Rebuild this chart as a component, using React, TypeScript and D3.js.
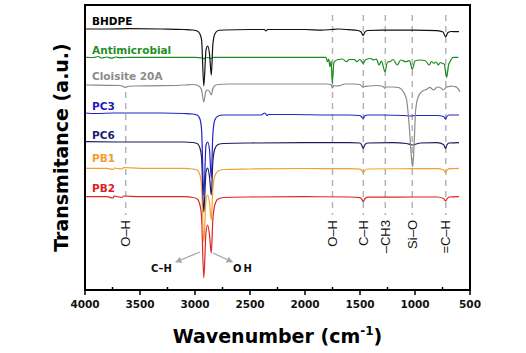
import * as d3 from "d3";
import React from "react";

type Pt = [number, number];

// spectra: [wavenumber (cm-1), transmittance (a.u., offset per trace)]
const bhdpe: Pt[] = [
  [4000, 261], [3800, 261], [3600, 261.3], [3300, 261], [3100, 260.5], [3020, 260], [2980, 259],
  [2955, 256], [2940, 250], [2920, 204], [2900, 240], [2885, 244], [2868, 236], [2852, 215],
  [2838, 245], [2820, 256], [2790, 259.5], [2740, 260], [2500, 260.5], [2370, 260.5], [2355, 259],
  [2340, 260.5], [2000, 260.5], [1850, 259.8], [1760, 260.5], [1700, 261], [1600, 260.3],
  [1520, 259.5], [1490, 258], [1470, 254.5], [1458, 257.5], [1430, 259.5], [1300, 259.8],
  [1000, 259.8], [800, 259.3], [745, 258], [722, 253.3], [712, 255], [700, 257.5], [670, 258.5],
  [630, 258.3], [600, 258.3],
];
const antimicrobial: Pt[] = [
  [4000, 232.7], [3920, 232.5], [3880, 233.5], [3850, 232], [3800, 233], [3760, 231.8], [3720, 233],
  [3680, 232.3], [3600, 232.7], [3000, 232.7], [2930, 232], [2920, 231], [2905, 232.5], [2860, 232],
  [2850, 231.5], [2830, 232.7], [2400, 232.7], [2000, 232.7], [1810, 232.7], [1794, 228.3],
  [1785, 231], [1773, 223.3], [1762, 229], [1752, 206.7], [1740, 225], [1733, 228.3], [1700, 230.5],
  [1660, 231], [1621, 228.3], [1600, 230.5], [1550, 230.5], [1530, 228.3], [1500, 230.5],
  [1470, 226.7], [1450, 230.3], [1400, 231.5], [1380, 230], [1350, 231], [1327, 225], [1305, 229],
  [1273, 218.3], [1250, 228], [1227, 228.3], [1200, 230.5], [1161, 225], [1130, 230], [1082, 228.3],
  [1050, 229.5], [1025, 220.7], [1000, 229], [955, 230], [910, 229.5], [870, 225], [850, 228.5],
  [827, 226.7], [808, 228], [788, 225], [770, 227.5], [752, 226.7], [735, 226], [712, 212.7],
  [695, 225], [682, 228.3], [652, 232.7], [606, 232.7],
];
const cloisite: Pt[] = [
  [4000, 205], [3800, 204.7], [3680, 204.5], [3640, 203], [3630, 202.7], [3615, 203.5], [3560, 204],
  [3300, 204.3], [3100, 205], [3020, 205.5], [2980, 204.8], [2955, 203], [2940, 200], [2920, 188],
  [2900, 199], [2885, 200], [2868, 198.5], [2852, 195], [2838, 201], [2820, 204.5], [2790, 205.5],
  [2700, 206], [2400, 206], [2000, 206], [1800, 206], [1765, 205.5], [1750, 202], [1738, 204.5],
  [1720, 204], [1680, 204.5], [1640, 206], [1560, 206], [1500, 205.5], [1480, 203.5], [1470, 202.7],
  [1460, 203.5], [1420, 204], [1350, 204.5], [1290, 203.5], [1273, 201.7], [1260, 203], [1200, 203],
  [1150, 202.5], [1106, 198.3], [1076, 190], [1052, 163.3], [1030, 130], [1021, 123.3], [1009, 143.3],
  [994, 180], [970, 193.3], [939, 198.3], [894, 200.7], [864, 202.7], [845, 201], [827, 200],
  [810, 202], [788, 203], [765, 202], [742, 200], [712, 203], [690, 203.5], [667, 204], [640, 203.5],
  [621, 202.7], [591, 198.3],
];
const pc3: Pt[] = [
  [4000, 177], [3900, 176.5], [3740, 177], [3600, 177], [3300, 177], [3100, 176.5], [3020, 176],
  [2980, 175], [2955, 171], [2940, 160], [2920, 95], [2900, 145], [2885, 148], [2868, 140],
  [2852, 112], [2838, 155], [2820, 170], [2790, 174], [2740, 175], [2600, 175], [2400, 175],
  [2365, 177], [2345, 174.5], [2330, 175.5], [2100, 175.5], [1800, 175], [1600, 175], [1500, 174.5],
  [1485, 173], [1470, 171.5], [1458, 174], [1430, 175], [1300, 175], [1100, 174.5], [1030, 174],
  [1000, 174.5], [800, 174.5], [740, 173.5], [722, 171], [710, 173.5], [690, 175], [600, 175],
];
const pc6: Pt[] = [
  [4000, 148.3], [3700, 148], [3300, 148], [3100, 148], [3020, 147.5], [2980, 146.5], [2955, 142],
  [2940, 132], [2920, 78], [2900, 118], [2885, 122], [2868, 113], [2852, 95], [2838, 128],
  [2820, 141], [2790, 145.5], [2740, 146.5], [2500, 147], [2000, 147.3], [1600, 147.3], [1500, 147],
  [1485, 145], [1470, 141.7], [1458, 145], [1430, 147], [1200, 147.3], [1080, 146.5], [1040, 145.5],
  [1020, 145], [990, 146], [950, 147], [800, 147.3], [740, 145.5], [722, 141.5], [710, 145],
  [690, 147], [600, 147.3],
];
const pb1: Pt[] = [
  [4000, 121.7], [3800, 121.7], [3745, 120.5], [3735, 122], [3660, 121], [3650, 122.5], [3500, 121.7],
  [3100, 121.7], [3020, 121], [2980, 120], [2955, 115], [2940, 104], [2920, 48], [2900, 90],
  [2885, 95], [2868, 87], [2852, 70], [2838, 100], [2820, 114], [2790, 119], [2740, 120.5], [2500, 121],
  [2000, 121.5], [1600, 121.3], [1500, 120.8], [1485, 119.5], [1470, 117.3], [1458, 119.5],
  [1430, 121], [1000, 121.3], [800, 121.3], [740, 120], [722, 117.3], [710, 119.5], [690, 121.3],
  [600, 121.7],
];
const pb2: Pt[] = [
  [4000, 93.3], [3800, 93.3], [3745, 92], [3735, 94], [3665, 92.5], [3650, 94], [3500, 93.3],
  [3100, 93.3], [3020, 92.5], [2980, 91], [2955, 85], [2940, 72], [2920, 12], [2900, 58], [2885, 65],
  [2868, 55], [2852, 37], [2838, 70], [2820, 85], [2790, 91], [2740, 92.5], [2500, 93], [2000, 93.3],
  [1600, 93], [1500, 92.3], [1485, 91], [1470, 88.3], [1458, 91], [1430, 92.8], [1000, 93], [800, 93],
  [740, 91.5], [722, 89], [710, 91], [690, 93], [600, 93.3],
];

const seriesNames = ["BHDPE", "Antimicrobial", "Cloisite 20A", "PC3", "PC6", "PB1", "PB2"];
const seriesData = [bhdpe, antimicrobial, cloisite, pc3, pc6, pb1, pb2];
const lineColors = ["#111111", "#1c8a1c", "#8a8a8a", "#2424c8", "#1c1c5c", "#f2a032", "#e02424"];
const labelColors = ["#000000", "#1f8f1f", "#8c8c8c", "#2020c0", "#1c1c6c", "#f39a30", "#dd2020"];
const labelBaselines = [265, 236, 210, 180, 151.5, 128.5, 98.5];

const bandPositions = [3630, 1750, 1470, 1270, 1025, 720];
const bandTops = [198, 275, 275, 275, 275, 275];
const bandLabels = ["O–H", "O–H", "C–H", "–CH3", "Si–O", "=C–H"];

const majorTicks = [4000, 3500, 3000, 2500, 2000, 1500, 1000, 500];
const minorTicks = [3750, 3250, 2750, 2250, 1750, 1250, 750];

// annotation arrows: [from wn, from v, to wn, to v]
const arrows = [
  { from: [2955, 38], to: [3175, 28], text: "C–H", at: [3305, 18] },
  { from: [2836, 37], to: [2660, 28], text: "OH", at: [2560, 18] },
];

const W = 526, H = 353;
const m = { left: 85, right: 56, top: 5, bottom: 63 };

export default function App() {
  const x = d3.scaleLinear().domain([4000, 500]).range([m.left, W - m.right]);
  const y = d3.scaleLinear().domain([0, 285]).range([H - m.bottom, m.top]);
  const line = d3.line<Pt>().x(d => x(d[0])).y(d => y(d[1])).curve(d3.curveMonotoneX);
  const bottom = H - m.bottom;
  const order = [6, 5, 4, 3, 2, 1, 0];

  return (
    <svg width={W} height={H} style={{ position: "absolute", left: 0, top: 0, background: "#fff" }}>
      <defs>
        <marker id="ah" viewBox="0 0 10 10" refX="9" refY="5" markerWidth="5" markerHeight="5" orient="auto">
          <path d="M0,0L10,5L0,10z" fill="#a8a8a8" />
        </marker>
      </defs>
      {bandPositions.map((b, i) => (
        <g key={"b" + i}>
          <line x1={x(b)} x2={x(b)} y1={y(bandTops[i])} y2={y(75)} stroke="#b4b4b4" strokeWidth={1.5} strokeDasharray="6,5" />
          <text transform={`translate(${x(b) + 4.5},${y(70)}) rotate(-90)`} textAnchor="end"
            fontFamily="Liberation Sans, Arial, sans-serif" fontSize={13} fill="#111">{bandLabels[i]}</text>
        </g>
      ))}
      {order.map(i => (
        <path key={seriesNames[i]} d={line(seriesData[i]) || ""} fill="none" stroke={lineColors[i]} strokeWidth={1.2} />
      ))}
      {seriesNames.map((n, i) => (
        <text key={"l" + n} x={x(3936)} y={y(labelBaselines[i])} fill={labelColors[i]}
          fontFamily="DejaVu Sans, Verdana, sans-serif" fontWeight="bold" fontSize={10.5}>{n}</text>
      ))}
      {arrows.map((a, i) => (
        <g key={"a" + i}>
          <line x1={x(a.from[0])} y1={y(a.from[1])} x2={x(a.to[0])} y2={y(a.to[1])} stroke="#a8a8a8" strokeWidth={1.3} markerEnd="url(#ah)" />
          <text x={x(a.at[0])} y={y(a.at[1])} textAnchor="middle" fontFamily="DejaVu Sans, Verdana, sans-serif"
            fontWeight="bold" fontSize={10} letterSpacing={i === 1 ? 2 : 0} fill="#111">{a.text}</text>
        </g>
      ))}
      <rect x={m.left} y={m.top} width={W - m.left - m.right} height={bottom - m.top} fill="none" stroke="#000" strokeWidth={2} />
      {majorTicks.map(t => (
        <g key={"t" + t}>
          <line x1={x(t)} x2={x(t)} y1={bottom} y2={bottom + 5} stroke="#000" strokeWidth={1.5} />
          <text x={x(t)} y={bottom + 18} textAnchor="middle" fontFamily="DejaVu Sans, Verdana, sans-serif"
            fontWeight="bold" fontSize={10.5} fill="#111">{t}</text>
        </g>
      ))}
      {minorTicks.map(t => (
        <line key={"mt" + t} x1={x(t)} x2={x(t)} y1={bottom - 3} y2={bottom} stroke="#000" strokeWidth={1.5} />
      ))}
      <text x={(m.left + W - m.right) / 2} y={343} textAnchor="middle" fontFamily="DejaVu Sans, Verdana, sans-serif"
        fontWeight="bold" fontSize={19} fill="#000">
        Wavenumber (cm<tspan dy={-8} fontSize={12}>-1</tspan><tspan dy={8}>)</tspan>
      </text>
      <text transform={`translate(68,${(m.top + bottom) / 2}) rotate(-90)`} textAnchor="middle"
        fontFamily="DejaVu Sans, Verdana, sans-serif" fontWeight="bold" fontSize={19} fill="#000">
        Transmitance (a.u.)
      </text>
    </svg>
  );
}
